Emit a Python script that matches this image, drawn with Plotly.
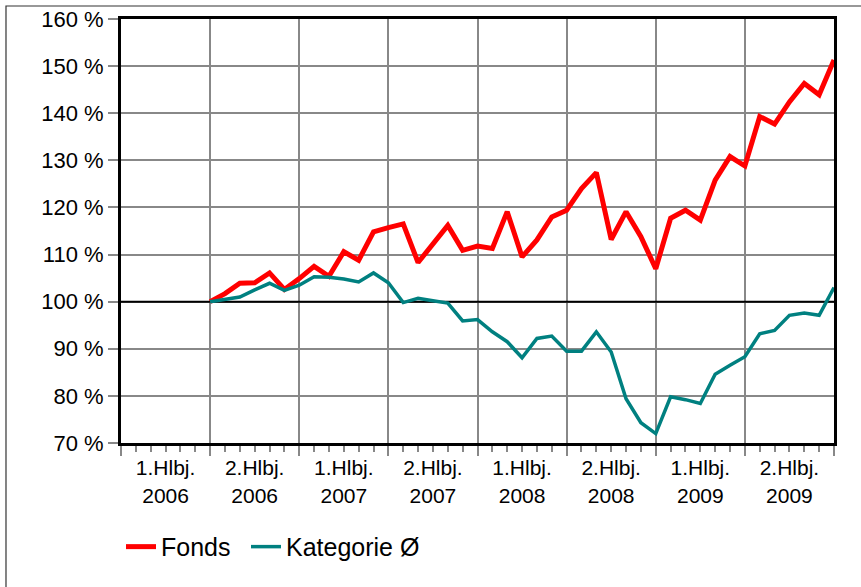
import plotly.graph_objects as go

# Months since Jan 2006 (data from Jul 2006 = month 6 to Dec 2009 = month 48)
months = list(range(6, 49))

fonds = [100, 101.7, 103.9, 104, 106.1, 102.6, 104.9, 107.5, 105.4, 110.6,
         108.8, 114.8, 115.7, 116.5, 108.3, 112.3, 116.2, 110.9, 111.8, 111.3,
         119.1, 109.5, 113.1, 118, 119.4, 124, 127.4, 113.2, 119.1, 113.8,
         107, 117.7, 119.4, 117.3, 125.8, 130.8, 128.8, 139.3, 137.7, 142.4,
         146.3, 143.9, 151.3]

kategorie = [100, 100.5, 101, 102.5, 103.9, 102.4, 103.5, 105.3, 105.2, 104.8,
             104.2, 106.1, 104, 99.8, 100.7, 100.2, 99.7, 95.9, 96.2, 93.6,
             91.5, 88.1, 92.2, 92.7, 89.5, 89.5, 93.6, 89.3, 79.4, 74.3,
             72, 79.8, 79.2, 78.4, 84.6, 86.5, 88.3, 93.2, 93.9, 97.1,
             97.6, 97.1, 103]

half_year_bounds = [0, 6, 12, 18, 24, 30, 36, 42, 48]
label_positions = [3, 9, 15, 21, 27, 33, 39, 45]
label_texts = ["1.Hlbj.<br>2006", "2.Hlbj.<br>2006", "1.Hlbj.<br>2007", "2.Hlbj.<br>2007",
               "1.Hlbj.<br>2008", "2.Hlbj.<br>2008", "1.Hlbj.<br>2009", "2.Hlbj.<br>2009"]
y_ticks = [70, 80, 90, 100, 110, 120, 130, 140, 150, 160]

GRID = "#888888"
FONT = "Liberation Sans, Arial, sans-serif"

fig = go.Figure()
fig.add_trace(go.Scatter(x=months, y=fonds, mode="lines", name="Fonds",
                         line=dict(color="#FF0000", width=5), legend="legend"))
fig.add_trace(go.Scatter(x=months, y=kategorie, mode="lines", name="Kategorie Ø",
                         line=dict(color="#008080", width=3.5), legend="legend2"))
fig.add_trace(go.Scatter(x=label_positions, y=[None] * len(label_positions), xaxis="x2",
                         showlegend=False, hoverinfo="skip", mode="lines"))

fig.add_shape(type="line", xref="x", yref="y", x0=0, x1=48, y0=100, y1=100,
              line=dict(color="black", width=2), layer="between")
# outer frame
fig.add_shape(type="rect", xref="paper", yref="paper", x0=-0.1613, x1=1.3, y0=-0.6, y1=1.0307,
              line=dict(color="#333333", width=1.2), layer="below")

legend_common = dict(orientation="h", xanchor="left", y=-0.245, yanchor="middle",
                     font=dict(size=25, family=FONT, color="black"),
                     bgcolor="rgba(0,0,0,0)", itemwidth=30)

fig.update_layout(
    width=861, height=587,
    margin=dict(l=121, r=27, t=19, b=144, autoexpand=False),
    paper_bgcolor="white", plot_bgcolor="white",
    font=dict(family=FONT, color="black", size=21),
    xaxis=dict(range=[0, 48], tickmode="array", tickvals=half_year_bounds,
               showticklabels=False, ticks="outside", ticklen=10, tickwidth=2, tickcolor=GRID,
               showgrid=True, gridcolor=GRID, gridwidth=2, zeroline=False, automargin=False,
               showline=True, linecolor="black", linewidth=3, mirror=True,
               minor=dict(tickmode="linear", tick0=0, dtick=1, ticks="outside",
                          ticklen=6, tickwidth=2, tickcolor=GRID, showgrid=False)),
    xaxis2=dict(range=[0, 48], overlaying="x", anchor="y", side="bottom",
                tickmode="array", tickvals=label_positions, ticktext=label_texts,
                ticks="outside", ticklen=6, tickcolor="rgba(0,0,0,0)", automargin=False,
                showgrid=False, zeroline=False, showline=False,
                tickfont=dict(size=21, family=FONT, color="black")),
    yaxis=dict(range=[70, 160], tickmode="array", tickvals=y_ticks,
               ticktext=[f"{v} %" for v in y_ticks], automargin=False,
               ticks="outside", ticklen=10, tickwidth=2, tickcolor=GRID,
               showgrid=True, gridcolor=GRID, gridwidth=2, zeroline=False,
               showline=True, linecolor="black", linewidth=3, mirror=True,
               tickfont=dict(size=22, family=FONT, color="black")),
    legend=dict(x=0.0, **legend_common),
    legend2=dict(x=0.1753, **legend_common),
    showlegend=True,
)

fig.write_html("out.html", config={"displayModeBar": False},
               post_script="document.body.style.margin='0px';document.body.style.overflow='hidden';")
